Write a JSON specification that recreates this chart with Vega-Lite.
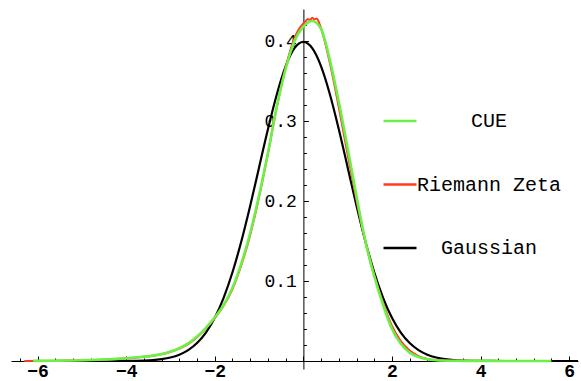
{
  "$schema": "https://vega.github.io/schema/vega-lite/v6.json",
  "autosize": {"type": "none"},
  "padding": {"left": 11, "top": 9, "right": 3, "bottom": 12},
  "width": 567,
  "height": 360,
  "background": "white",
  "config": {"view": {"stroke": null}},
  "datasets": {
    "gauss": [
      {"series": "Gaussian", "x": -6.2, "y": 0}, {"series": "Gaussian", "x": -4.5, "y": 0.00002},
      {"series": "Gaussian", "x": -4.0, "y": 0.0001}, {"series": "Gaussian", "x": -3.8, "y": 0.0003},
      {"series": "Gaussian", "x": -3.6, "y": 0.0006}, {"series": "Gaussian", "x": -3.4, "y": 0.0012},
      {"series": "Gaussian", "x": -3.2, "y": 0.0024}, {"series": "Gaussian", "x": -3.0, "y": 0.0044},
      {"series": "Gaussian", "x": -2.8, "y": 0.0079}, {"series": "Gaussian", "x": -2.6, "y": 0.0136},
      {"series": "Gaussian", "x": -2.4, "y": 0.0224}, {"series": "Gaussian", "x": -2.2, "y": 0.0355},
      {"series": "Gaussian", "x": -2.0, "y": 0.054}, {"series": "Gaussian", "x": -1.8, "y": 0.079},
      {"series": "Gaussian", "x": -1.6, "y": 0.1109}, {"series": "Gaussian", "x": -1.4, "y": 0.1497},
      {"series": "Gaussian", "x": -1.2, "y": 0.1942}, {"series": "Gaussian", "x": -1.0, "y": 0.242},
      {"series": "Gaussian", "x": -0.8, "y": 0.2897}, {"series": "Gaussian", "x": -0.6, "y": 0.3332},
      {"series": "Gaussian", "x": -0.4, "y": 0.3683}, {"series": "Gaussian", "x": -0.2, "y": 0.391},
      {"series": "Gaussian", "x": 0.0, "y": 0.3989}, {"series": "Gaussian", "x": 0.2, "y": 0.391},
      {"series": "Gaussian", "x": 0.4, "y": 0.3683}, {"series": "Gaussian", "x": 0.6, "y": 0.3332},
      {"series": "Gaussian", "x": 0.8, "y": 0.2897}, {"series": "Gaussian", "x": 1.0, "y": 0.242},
      {"series": "Gaussian", "x": 1.2, "y": 0.1942}, {"series": "Gaussian", "x": 1.4, "y": 0.1497},
      {"series": "Gaussian", "x": 1.6, "y": 0.1109}, {"series": "Gaussian", "x": 1.8, "y": 0.079},
      {"series": "Gaussian", "x": 2.0, "y": 0.054}, {"series": "Gaussian", "x": 2.2, "y": 0.0355},
      {"series": "Gaussian", "x": 2.4, "y": 0.0224}, {"series": "Gaussian", "x": 2.6, "y": 0.0136},
      {"series": "Gaussian", "x": 2.8, "y": 0.0079}, {"series": "Gaussian", "x": 3.0, "y": 0.0044},
      {"series": "Gaussian", "x": 3.2, "y": 0.0024}, {"series": "Gaussian", "x": 3.4, "y": 0.0012},
      {"series": "Gaussian", "x": 3.6, "y": 0.0006}, {"series": "Gaussian", "x": 3.8, "y": 0.0003},
      {"series": "Gaussian", "x": 4.0, "y": 0.0001}, {"series": "Gaussian", "x": 4.5, "y": 0.00002},
      {"series": "Gaussian", "x": 6.2, "y": 0}
    ],
    "zeta": [
      {"series": "Riemann Zeta", "x": -6.3, "y": 0}, {"series": "Riemann Zeta", "x": -5.6, "y": 0.0004},
      {"series": "Riemann Zeta", "x": -5.0, "y": 0.0009}, {"series": "Riemann Zeta", "x": -4.6, "y": 0.0015},
      {"series": "Riemann Zeta", "x": -4.2, "y": 0.0026}, {"series": "Riemann Zeta", "x": -3.8, "y": 0.0041},
      {"series": "Riemann Zeta", "x": -3.4, "y": 0.0065}, {"series": "Riemann Zeta", "x": -3.1, "y": 0.0097},
      {"series": "Riemann Zeta", "x": -2.8, "y": 0.0155}, {"series": "Riemann Zeta", "x": -2.6, "y": 0.0212},
      {"series": "Riemann Zeta", "x": -2.4, "y": 0.0298}, {"series": "Riemann Zeta", "x": -2.2, "y": 0.0405},
      {"series": "Riemann Zeta", "x": -2.0, "y": 0.0535}, {"series": "Riemann Zeta", "x": -1.8, "y": 0.069},
      {"series": "Riemann Zeta", "x": -1.6, "y": 0.09}, {"series": "Riemann Zeta", "x": -1.4, "y": 0.12},
      {"series": "Riemann Zeta", "x": -1.2, "y": 0.1575}, {"series": "Riemann Zeta", "x": -1.0, "y": 0.205},
      {"series": "Riemann Zeta", "x": -0.8, "y": 0.259}, {"series": "Riemann Zeta", "x": -0.6, "y": 0.317},
      {"series": "Riemann Zeta", "x": -0.4, "y": 0.367}, {"series": "Riemann Zeta", "x": -0.2, "y": 0.404},
      {"series": "Riemann Zeta", "x": 0.0, "y": 0.422}, {"series": "Riemann Zeta", "x": 0.05, "y": 0.4245},
      {"series": "Riemann Zeta", "x": 0.1, "y": 0.4275}, {"series": "Riemann Zeta", "x": 0.15, "y": 0.4262},
      {"series": "Riemann Zeta", "x": 0.2, "y": 0.429}, {"series": "Riemann Zeta", "x": 0.25, "y": 0.427},
      {"series": "Riemann Zeta", "x": 0.3, "y": 0.4282}, {"series": "Riemann Zeta", "x": 0.35, "y": 0.4235},
      {"series": "Riemann Zeta", "x": 0.4, "y": 0.416}, {"series": "Riemann Zeta", "x": 0.6, "y": 0.372},
      {"series": "Riemann Zeta", "x": 0.8, "y": 0.317}, {"series": "Riemann Zeta", "x": 1.0, "y": 0.258},
      {"series": "Riemann Zeta", "x": 1.2, "y": 0.201}, {"series": "Riemann Zeta", "x": 1.4, "y": 0.149},
      {"series": "Riemann Zeta", "x": 1.6, "y": 0.107}, {"series": "Riemann Zeta", "x": 1.8, "y": 0.0725},
      {"series": "Riemann Zeta", "x": 2.0, "y": 0.044}, {"series": "Riemann Zeta", "x": 2.2, "y": 0.025},
      {"series": "Riemann Zeta", "x": 2.4, "y": 0.013}, {"series": "Riemann Zeta", "x": 2.6, "y": 0.0062},
      {"series": "Riemann Zeta", "x": 2.8, "y": 0.0026}, {"series": "Riemann Zeta", "x": 3.0, "y": 0.0011},
      {"series": "Riemann Zeta", "x": 3.4, "y": 0.0003}, {"series": "Riemann Zeta", "x": 4.0, "y": 0.0001},
      {"series": "Riemann Zeta", "x": 5.5, "y": 0}
    ],
    "cue": [
      {"series": "CUE", "x": -6.1, "y": 0.0002}, {"series": "CUE", "x": -5.6, "y": 0.0004},
      {"series": "CUE", "x": -5.0, "y": 0.0009}, {"series": "CUE", "x": -4.6, "y": 0.0016},
      {"series": "CUE", "x": -4.2, "y": 0.0027}, {"series": "CUE", "x": -3.8, "y": 0.0043},
      {"series": "CUE", "x": -3.4, "y": 0.0067}, {"series": "CUE", "x": -3.1, "y": 0.01},
      {"series": "CUE", "x": -2.8, "y": 0.016}, {"series": "CUE", "x": -2.6, "y": 0.022},
      {"series": "CUE", "x": -2.4, "y": 0.0305}, {"series": "CUE", "x": -2.2, "y": 0.0415},
      {"series": "CUE", "x": -2.0, "y": 0.0545}, {"series": "CUE", "x": -1.8, "y": 0.07},
      {"series": "CUE", "x": -1.6, "y": 0.0915}, {"series": "CUE", "x": -1.4, "y": 0.122},
      {"series": "CUE", "x": -1.2, "y": 0.16}, {"series": "CUE", "x": -1.0, "y": 0.207},
      {"series": "CUE", "x": -0.8, "y": 0.26}, {"series": "CUE", "x": -0.6, "y": 0.318},
      {"series": "CUE", "x": -0.4, "y": 0.365}, {"series": "CUE", "x": -0.2, "y": 0.4},
      {"series": "CUE", "x": 0.0, "y": 0.418}, {"series": "CUE", "x": 0.2, "y": 0.425},
      {"series": "CUE", "x": 0.4, "y": 0.415}, {"series": "CUE", "x": 0.6, "y": 0.376},
      {"series": "CUE", "x": 0.8, "y": 0.324}, {"series": "CUE", "x": 1.0, "y": 0.266},
      {"series": "CUE", "x": 1.2, "y": 0.206}, {"series": "CUE", "x": 1.4, "y": 0.15},
      {"series": "CUE", "x": 1.6, "y": 0.106}, {"series": "CUE", "x": 1.8, "y": 0.07},
      {"series": "CUE", "x": 2.0, "y": 0.04}, {"series": "CUE", "x": 2.2, "y": 0.0215},
      {"series": "CUE", "x": 2.4, "y": 0.0105}, {"series": "CUE", "x": 2.6, "y": 0.005},
      {"series": "CUE", "x": 2.8, "y": 0.0022}, {"series": "CUE", "x": 3.0, "y": 0.001},
      {"series": "CUE", "x": 3.4, "y": 0.0003}, {"series": "CUE", "x": 4.0, "y": 0.0001},
      {"series": "CUE", "x": 5.6, "y": 0}
    ]
  },
  "encoding": {
    "x": {
      "field": "x", "type": "quantitative",
      "scale": {"domain": [-6.6, 6.2], "nice": false, "zero": false},
      "axis": {
        "title": null, "grid": false, "orient": "bottom", "offset": -8,
        "domainColor": "black", "domainWidth": 1,
        "tickColor": "black", "tickWidth": 1,
        "values": [-6.4, -6, -5.6, -5.2, -4.8, -4.4, -4, -3.6, -3.2, -2.8, -2.4, -2, -1.6, -1.2, -0.8, -0.4, 0, 0.4, 0.8, 1.2, 1.6, 2, 2.4, 2.8, 3.2, 3.6, 4, 4.4, 4.8, 5.2, 5.6, 6],
        "tickSize": {"condition": {"test": "abs(datum.value/2 - round(datum.value/2)) < 0.001", "value": -5}, "value": -3},
        "labelExpr": "abs(datum.value/2 - round(datum.value/2)) < 0.001 && datum.value != 0 ? format(datum.value, 'd') : ''",
        "labelFont": "Liberation Mono", "labelFontSize": 18, "labelFontWeight": "bold", "labelColor": "black",
        "labelPadding": 6, "labelOverlap": false, "labelFlush": false, "labelBound": false
      }
    },
    "y": {
      "field": "y", "type": "quantitative",
      "scale": {"domain": [-0.01, 0.44], "nice": false, "zero": false},
      "axis": {
        "title": null, "grid": false, "orient": "left", "offset": -292.4,
        "domainColor": "black", "domainWidth": 1,
        "tickColor": "black", "tickWidth": 1,
        "values": [0.02, 0.04, 0.06, 0.08, 0.1, 0.12, 0.14, 0.16, 0.18, 0.2, 0.22, 0.24, 0.26, 0.28, 0.3, 0.32, 0.34, 0.36, 0.38, 0.4, 0.42],
        "tickSize": {"condition": {"test": "abs(datum.value*10 - round(datum.value*10)) < 0.001", "value": -5}, "value": -3},
        "labelExpr": "abs(datum.value*10 - round(datum.value*10)) < 0.001 ? format(datum.value, '.1f') : ''",
        "labelFont": "Liberation Mono", "labelFontSize": 18, "labelColor": "black",
        "labelPadding": 12, "labelOverlap": false, "labelFlush": false, "labelBound": false
      }
    },
    "color": {
      "field": "series", "type": "nominal",
      "scale": {"domain": ["CUE", "Riemann Zeta", "Gaussian"], "range": ["#6cf046", "#ff3b20", "#000000"]},
      "legend": {
        "title": null, "orient": "none", "legendX": 371, "legendY": 94,
        "symbolType": "stroke", "symbolSize": 1089, "symbolStrokeWidth": 2.5,
        "labelFont": "Liberation Mono", "labelFontSize": 20, "labelColor": "black",
        "labelAlign": "center", "labelOffset": 71, "labelLimit": 400,
        "rowPadding": 35.5, "padding": 0
      }
    }
  },
  "layer": [
    {"data": {"name": "gauss"}, "mark": {"type": "line", "interpolate": "monotone", "strokeWidth": 2.2}},
    {"data": {"name": "zeta"}, "mark": {"type": "line", "interpolate": "monotone", "strokeWidth": 2}},
    {"data": {"name": "cue"}, "mark": {"type": "line", "interpolate": "monotone", "strokeWidth": 2.6}}
  ]
}
